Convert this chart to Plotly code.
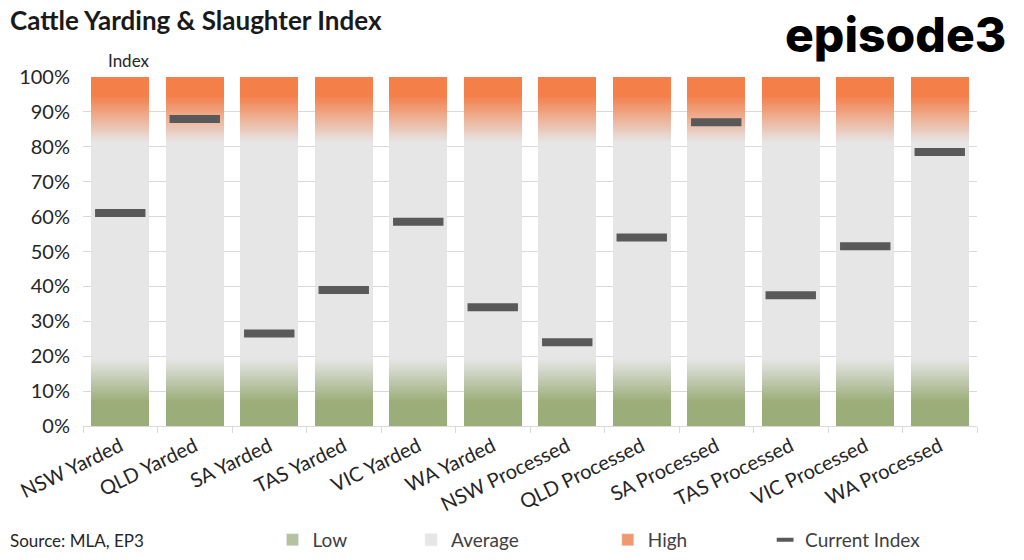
import plotly.graph_objects as go

categories = ["NSW Yarded", "QLD Yarded", "SA Yarded", "TAS Yarded", "VIC Yarded", "WA Yarded",
              "NSW Processed", "QLD Processed", "SA Processed", "TAS Processed", "VIC Processed",
              "WA Processed"]
low_band = [0.20] * 12
avg_band = [0.60] * 12
high_band = [0.20] * 12
current_index = [0.61, 0.88, 0.265, 0.39, 0.585, 0.34, 0.24, 0.54, 0.87, 0.375, 0.515, 0.785]

GREEN = (155, 173, 121)
GREY = (230, 230, 230)
ORANGE = (244, 127, 73)
FONT = "Lato"


def mix(a, b, t):
    t = min(1.0, max(0.0, t))
    return "rgb(%d,%d,%d)" % tuple(round(a[i] + (b[i] - a[i]) * t) for i in range(3))


fig = go.Figure()

# gradient bands: each band split into thin slices to imitate Excel's gradient fill
n = 40
for k in range(n):
    f = (k + 0.5) / n          # position inside band, 0 = bottom
    fig.add_trace(go.Bar(x=categories, y=[v / n for v in low_band],
                         marker=dict(color=mix(GREEN, GREY, (f - 0.35) / 0.62), line_width=0),
                         showlegend=False, hoverinfo="skip"))
fig.add_trace(go.Bar(x=categories, y=avg_band, marker=dict(color=mix(GREY, GREY, 0), line_width=0),
                     showlegend=False, hoverinfo="skip"))
for k in range(n):
    f = (k + 0.5) / n
    fig.add_trace(go.Bar(x=categories, y=[v / n for v in high_band],
                         marker=dict(color=mix(GREY, ORANGE, (f - 0.07) / 0.67), line_width=0),
                         showlegend=False, hoverinfo="skip"))

fig.add_trace(go.Scatter(x=categories, y=current_index, mode="markers", name="Current Index",
                         marker=dict(symbol="line-ew", size=36, color="#595959",
                                     line=dict(width=8, color="#595959")),
                         showlegend=False, hoverinfo="x+y"))

# legend-only entries
legend_items = [("Low", mix(GREEN, GREY, 0.35), "legend"), ("Average", mix(GREY, GREY, 0), "legend2"),
                ("High", mix(GREY, ORANGE, 0.75), "legend3")]
for name, col, lg in legend_items:
    fig.add_trace(go.Bar(x=[None], y=[None], name=name, marker_color=col, legend=lg))
fig.add_trace(go.Scatter(x=[None], y=[None], mode="markers", name="Current Index",
                         marker=dict(symbol="line-ew", size=12, color="#595959",
                                     line=dict(width=4, color="#595959")),
                         legend="legend4"))

leg = dict(orientation="h", yref="container", yanchor="middle", y=0.036, xanchor="left",
           bgcolor="rgba(0,0,0,0)", font=dict(family=FONT, size=19, color="#404040"),
           itemwidth=30)

fig.update_layout(
    barmode="stack",
    bargap=0.22,
    width=1024, height=560,
    margin=dict(l=83, r=47, t=77, b=134),
    paper_bgcolor="white", plot_bgcolor="white",
    font=dict(family=FONT, color="#404040"),
    legend=dict(leg, x=0.212),
    legend2=dict(leg, x=0.367),
    legend3=dict(leg, x=0.587),
    legend4=dict(leg, x=0.763),
    xaxis=dict(range=[-0.5, 11.5], tickangle=-26, tickfont=dict(size=20, color="#262626"),
               showline=True, linecolor="#D9D9D9", ticks="outside", tickson="boundaries",
               ticklen=6, tickcolor="#D9D9D9", automargin=False),
    yaxis=dict(range=[0, 1], tickformat=".0%", dtick=0.1, tickfont=dict(size=20, color="#262626"),
               gridcolor="#D9D9D9", zeroline=False, ticks="", ticklabelstandoff=12,
               automargin=False),
    annotations=[
        dict(text="<b>Cattle Yarding & Slaughter Index</b>", x=-0.084, y=1.163, xref="paper",
             yref="paper", showarrow=False, font=dict(family=FONT, size=26, color="#1a1a1a"),
             xanchor="left", yanchor="middle"),
        dict(text="Index", x=0.051, y=1.012, xref="paper", yref="paper", showarrow=False,
             font=dict(family=FONT, size=17, color="#262626"), xanchor="center", yanchor="bottom"),
        dict(text="Source: MLA, EP3", x=-0.084, y=-0.327, xref="paper", yref="paper",
             showarrow=False, font=dict(family=FONT, size=17, color="#262626"),
             xanchor="left", yanchor="middle"),
        dict(text="episode3", x=1.035, y=1.123, xref="paper", yref="paper", showarrow=False,
             font=dict(family="Inter", size=48, color="#000000", weight=800),
             xanchor="right", yanchor="middle"),
    ],
)

# drop the default 8px page margin so the figure sits at the window's top-left corner
fig.write_html("out.html", config={"displayModeBar": False},
               post_script="document.body.style.margin='0';")
